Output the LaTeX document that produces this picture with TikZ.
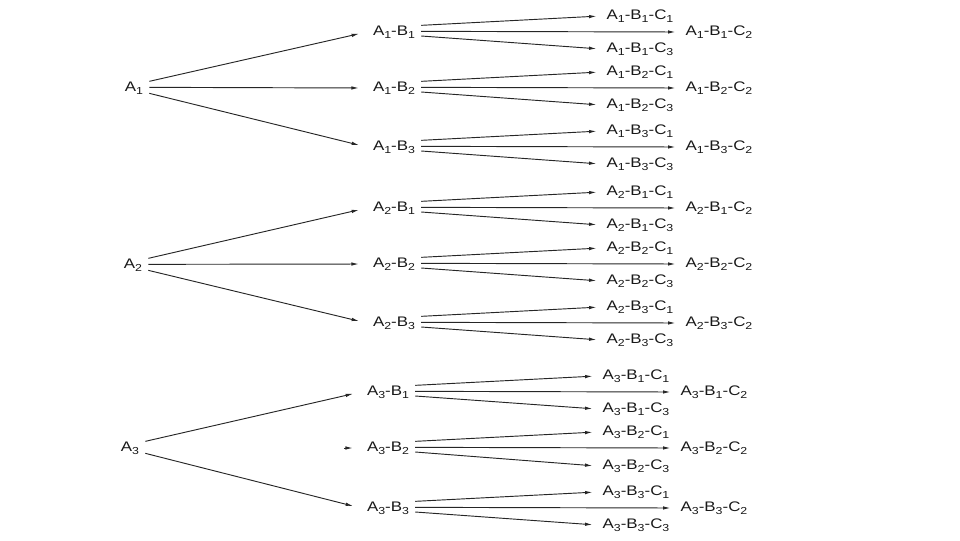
\documentclass[tikz,border=0pt]{standalone}
\usepackage{fontspec}
\setmainfont[FakeStretch=1.22]{Liberation Sans}
\usetikzlibrary{arrows.meta}

\newcommand{\ix}[1]{\raisebox{-0.35ex}{\fontsize{7.6}{8}\selectfont #1}}

\tikzset{
  lbl/.style={inner sep=4.5pt, text=black!90, font=\fontsize{10.4}{12}\selectfont},
  arr/.style={-{Latex[length=5.5pt,width=2.6pt]}, black!85, line width=0.7pt},
  tob/.style={arr, shorten >=6pt},
  toc/.style={arr, shorten >=3pt}
}

\begin{document}
\begin{tikzpicture}[x=0.75pt,y=-0.75pt]
  \useasboundingbox (0,0) rectangle (960,540);

  % first level
  \node[lbl] (a1) at (134,88) {A\ix{1}};
  \node[lbl] (a2) at (133,265) {A\ix{2}};
  \node[lbl] (a3) at (130,448) {A\ix{3}};

  % second level
  \node[lbl] (a1b1) at (394,32) {A\ix{1}-B\ix{1}};
  \node[lbl] (a1b2) at (394,88) {A\ix{1}-B\ix{2}};
  \node[lbl] (a1b3) at (394,147) {A\ix{1}-B\ix{3}};
  \node[lbl] (a2b1) at (394,208) {A\ix{2}-B\ix{1}};
  \node[lbl] (a2b2) at (394,264) {A\ix{2}-B\ix{2}};
  \node[lbl] (a2b3) at (394,323) {A\ix{2}-B\ix{3}};
  \node[lbl] (a3b1) at (388,392) {A\ix{3}-B\ix{1}};
  \node[lbl] (a3b2) at (388,448) {A\ix{3}-B\ix{2}};
  \node[lbl] (a3b3) at (388,508) {A\ix{3}-B\ix{3}};

  \draw[tob] ([yshift=5pt]a1.east) -- (a1b1.west);
  \draw[tob] ([yshift=0.5pt]a1.east) -- (a1b2.west);
  \draw[tob] ([yshift=-4pt]a1.east) -- (a1b3.west);
  \draw[tob] ([yshift=5pt]a2.east) -- (a2b1.west);
  \draw[tob] ([yshift=0.5pt]a2.east) -- (a2b2.west);
  \draw[tob] ([yshift=-4pt]a2.east) -- (a2b3.west);
  \draw[tob] ([yshift=5pt]a3.east) -- (a3b1.west);
  \coordinate (stub) at (344,448);
  \draw[tob] (stub) -- (a3b2.west);
  \draw[tob] ([yshift=-4pt]a3.east) -- (a3b3.west);

  % third level, A1
  \node[lbl] (a1b1c1) at (640,16) {A\ix{1}-B\ix{1}-C\ix{1}};
  \node[lbl] (a1b1c2) at (719,32) {A\ix{1}-B\ix{1}-C\ix{2}};
  \node[lbl] (a1b1c3) at (640,49) {A\ix{1}-B\ix{1}-C\ix{3}};
  \node[lbl] (a1b2c1) at (640,72) {A\ix{1}-B\ix{2}-C\ix{1}};
  \node[lbl] (a1b2c2) at (719,88) {A\ix{1}-B\ix{2}-C\ix{2}};
  \node[lbl] (a1b2c3) at (640,105) {A\ix{1}-B\ix{2}-C\ix{3}};
  \node[lbl] (a1b3c1) at (640,131) {A\ix{1}-B\ix{3}-C\ix{1}};
  \node[lbl] (a1b3c2) at (719,147) {A\ix{1}-B\ix{3}-C\ix{2}};
  \node[lbl] (a1b3c3) at (640,164) {A\ix{1}-B\ix{3}-C\ix{3}};

  % third level, A2
  \node[lbl] (a2b1c1) at (640,192) {A\ix{2}-B\ix{1}-C\ix{1}};
  \node[lbl] (a2b1c2) at (719,208) {A\ix{2}-B\ix{1}-C\ix{2}};
  \node[lbl] (a2b1c3) at (640,225) {A\ix{2}-B\ix{1}-C\ix{3}};
  \node[lbl] (a2b2c1) at (640,248) {A\ix{2}-B\ix{2}-C\ix{1}};
  \node[lbl] (a2b2c2) at (719,264) {A\ix{2}-B\ix{2}-C\ix{2}};
  \node[lbl] (a2b2c3) at (640,281) {A\ix{2}-B\ix{2}-C\ix{3}};
  \node[lbl] (a2b3c1) at (640,307) {A\ix{2}-B\ix{3}-C\ix{1}};
  \node[lbl] (a2b3c2) at (719,323) {A\ix{2}-B\ix{3}-C\ix{2}};
  \node[lbl] (a2b3c3) at (640,340) {A\ix{2}-B\ix{3}-C\ix{3}};

  % third level, A3
  \node[lbl] (a3b1c1) at (636,376) {A\ix{3}-B\ix{1}-C\ix{1}};
  \node[lbl] (a3b1c2) at (714,392) {A\ix{3}-B\ix{1}-C\ix{2}};
  \node[lbl] (a3b1c3) at (636,409) {A\ix{3}-B\ix{1}-C\ix{3}};
  \node[lbl] (a3b2c1) at (636,432) {A\ix{3}-B\ix{2}-C\ix{1}};
  \node[lbl] (a3b2c2) at (714,448) {A\ix{3}-B\ix{2}-C\ix{2}};
  \node[lbl] (a3b2c3) at (636,466) {A\ix{3}-B\ix{2}-C\ix{3}};
  \node[lbl] (a3b3c1) at (636,492) {A\ix{3}-B\ix{3}-C\ix{1}};
  \node[lbl] (a3b3c2) at (714,508) {A\ix{3}-B\ix{3}-C\ix{2}};
  \node[lbl] (a3b3c3) at (636,525) {A\ix{3}-B\ix{3}-C\ix{3}};

  % connectors to third level
  \draw[toc] ([yshift=5pt]a1b1.east) -- (a1b1c1.west);
  \draw[toc] ([yshift=0.5pt]a1b1.east) -- (a1b1c2.west);
  \draw[toc] ([yshift=-3pt]a1b1.east) -- (a1b1c3.west);
  \draw[toc] ([yshift=5pt]a1b2.east) -- (a1b2c1.west);
  \draw[toc] ([yshift=0.5pt]a1b2.east) -- (a1b2c2.west);
  \draw[toc] ([yshift=-3pt]a1b2.east) -- (a1b2c3.west);
  \draw[toc] ([yshift=5pt]a1b3.east) -- (a1b3c1.west);
  \draw[toc] ([yshift=0.5pt]a1b3.east) -- (a1b3c2.west);
  \draw[toc] ([yshift=-3pt]a1b3.east) -- (a1b3c3.west);

  \draw[toc] ([yshift=5pt]a2b1.east) -- (a2b1c1.west);
  \draw[toc] ([yshift=0.5pt]a2b1.east) -- (a2b1c2.west);
  \draw[toc] ([yshift=-3pt]a2b1.east) -- (a2b1c3.west);
  \draw[toc] ([yshift=5pt]a2b2.east) -- (a2b2c1.west);
  \draw[toc] ([yshift=0.5pt]a2b2.east) -- (a2b2c2.west);
  \draw[toc] ([yshift=-3pt]a2b2.east) -- (a2b2c3.west);
  \draw[toc] ([yshift=5pt]a2b3.east) -- (a2b3c1.west);
  \draw[toc] ([yshift=0.5pt]a2b3.east) -- (a2b3c2.west);
  \draw[toc] ([yshift=-3pt]a2b3.east) -- (a2b3c3.west);

  \draw[toc] ([yshift=5pt]a3b1.east) -- (a3b1c1.west);
  \draw[toc] ([yshift=0.5pt]a3b1.east) -- (a3b1c2.west);
  \draw[toc] ([yshift=-3pt]a3b1.east) -- (a3b1c3.west);
  \draw[toc] ([yshift=5pt]a3b2.east) -- (a3b2c1.west);
  \draw[toc] ([yshift=0.5pt]a3b2.east) -- (a3b2c2.west);
  \draw[toc] ([yshift=-3pt]a3b2.east) -- (a3b2c3.west);
  \draw[toc] ([yshift=5pt]a3b3.east) -- (a3b3c1.west);
  \draw[toc] ([yshift=0.5pt]a3b3.east) -- (a3b3c2.west);
  \draw[toc] ([yshift=-3pt]a3b3.east) -- (a3b3c3.west);
\end{tikzpicture}
\end{document}
